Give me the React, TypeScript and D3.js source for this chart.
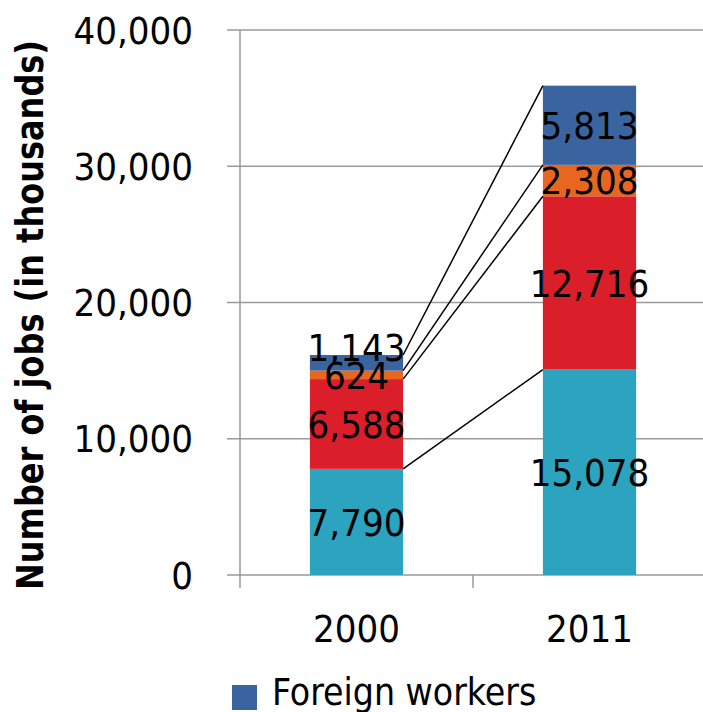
import React from "react";
import * as d3 from "d3";

const years = ["2000", "2011"];
const seriesKeys = ["s1", "s2", "s3", "foreign"];
const seriesColors = ["#2CA3BF", "#DA1F2B", "#E8661F", "#3A64A0"];
const s1 = [7790, 15078];
const s2 = [6588, 12716];
const s3 = [624, 2308];
const foreign = [1143, 5813];
const yTicks = [0, 10000, 20000, 30000, 40000];
const legendLabels = ["Foreign workers"];

const W = 703;
const H = 712;
const FONT = "'DejaVu Sans Condensed', 'DejaVu Sans', sans-serif";

export default function App() {
  const margin = { left: 240, right: 706, top: 30, bottom: 575 };
  const x = d3.scaleBand<string>().domain(years).range([margin.left, margin.right]).paddingInner(0.6).paddingOuter(0.3);
  const xOuter = d3.scaleBand<string>().domain(years).range([margin.left, margin.right]);
  const y = d3.scaleLinear().domain([0, 40000]).range([margin.bottom, margin.top]);

  const table = years.map((yr, i) => ({ year: yr, s1: s1[i], s2: s2[i], s3: s3[i], foreign: foreign[i] }));
  const stacked = d3.stack<any>().keys(seriesKeys)(table);
  const fmt = d3.format(",");
  const bw = x.bandwidth();
  // label nudge: the top label of a short bar sits above its thin segment
  const nudge = (li: number, i: number) => (li === seriesKeys.length - 1 && i === 0 ? -15 : 0);

  return (
    <svg width={W} height={H} style={{ position: "absolute", left: 0, top: 0 }} fontFamily={FONT} fontStretch="condensed">
      {yTicks.map((t) => (
        <line key={"g" + t} x1={227} x2={W} y1={y(t)} y2={y(t)} stroke="#9a9a9a" strokeWidth={1.5} />
      ))}
      <line x1={margin.left} x2={margin.left} y1={y(40000)} y2={margin.bottom + 13} stroke="#9a9a9a" strokeWidth={1.5} />
      {years.map((yr) => (
        <line key={"xt" + yr} x1={(xOuter(yr) as number) + xOuter.bandwidth()} x2={(xOuter(yr) as number) + xOuter.bandwidth()} y1={margin.bottom} y2={margin.bottom + 13} stroke="#9a9a9a" strokeWidth={1.5} />
      ))}
      {yTicks.map((t) => (
        <text key={"yl" + t} x={193} y={y(t)} dy="0.36em" textAnchor="end" fontSize={38} fill="#000">
          {fmt(t)}
        </text>
      ))}
      <text
        transform={`translate(43,315) rotate(-90)`}
        textAnchor="middle"
        fontSize={37}
        fontWeight="bold"
        fill="#000"
        textLength={550}
        lengthAdjust="spacingAndGlyphs"
      >
        Number of jobs (in thousands)
      </text>
      {stacked.map((layer, li) => (
        <g key={layer.key}>
          {layer.map((d, i) => (
            <rect key={i} x={x(years[i])} width={bw} y={y(d[1])} height={y(d[0]) - y(d[1])} fill={seriesColors[li]} />
          ))}
        </g>
      ))}
      {stacked.map((layer) => (
        <line
          key={"c" + layer.key}
          x1={(x(years[0]) as number) + bw}
          y1={y(layer[0][1])}
          x2={x(years[1])}
          y2={y(layer[1][1])}
          stroke="#000"
          strokeWidth={1.5}
        />
      ))}
      {stacked.map((layer, li) => (
        <g key={"l" + layer.key}>
          {layer.map((d, i) => (
            <text key={i} x={(x(years[i]) as number) + bw / 2} y={(y(d[0]) + y(d[1])) / 2 + nudge(li, i)} dy="0.36em" textAnchor="middle" fontSize={38} fill="#000">
              {fmt(d[1] - d[0])}
            </text>
          ))}
        </g>
      ))}
      {years.map((yr) => (
        <text key={"xl" + yr} x={(x(yr) as number) + bw / 2} y={642} textAnchor="middle" fontSize={38} fill="#000">
          {yr}
        </text>
      ))}
      <rect x={232} y={685} width={25} height={25} fill={seriesColors[3]} />
      <text x={272} y={705} fontSize={37} fill="#000">
        {legendLabels[0]}
      </text>
    </svg>
  );
}
